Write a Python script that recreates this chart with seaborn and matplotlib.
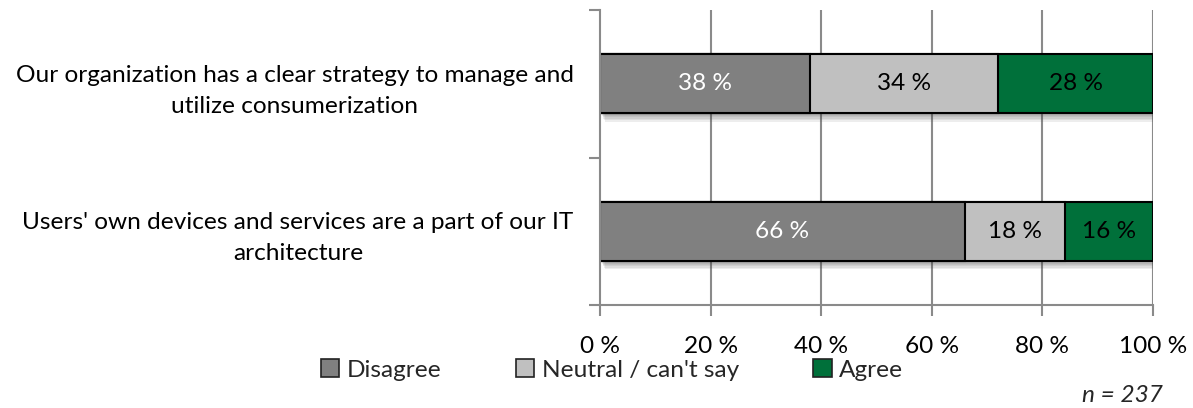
import matplotlib
matplotlib.use("Agg")
import matplotlib.pyplot as plt
import matplotlib.patheffects as pe
from matplotlib.patches import Patch
from matplotlib.ticker import FixedLocator
import numpy as np
import pandas as pd
import seaborn as sns

statements = [
    "Our organization has a clear strategy to manage and\nutilize consumerization",
    "Users' own devices and services are a part of our IT\narchitecture",
]
series_names = ["Disagree", "Neutral / can't say", "Agree"]
disagree = [38, 66]
neutral = [34, 18]
agree = [28, 16]
x_ticks = [0, 20, 40, 60, 80, 100]
sample_note = "n = 237"

colors = ["#808080", "#c0c0c0", "#00703a"]
label_colors = ["white", "black", "black"]

sns.set_theme(style="white")
plt.rcParams["font.family"] = ["Lato", "DejaVu Sans"]
FS = 17.6

df = pd.DataFrame({"statement": statements, "Disagree": disagree,
                   "Neutral / can't say": neutral, "Agree": agree})
values = df[series_names].to_numpy(dtype=float)
cum = np.cumsum(values, axis=1)

fig = plt.figure(figsize=(11.93, 4.08), dpi=100)
ax = fig.add_axes([600 / 1193, 1 - 305 / 408, 553 / 1193, 295 / 408])

grid_c = "#8a8a8a"
for xv in x_ticks[1:]:
    ax.axvline(xv, color=grid_c, lw=1.5, zorder=0)

# stack from the back: widest cumulative bar first
for i in reversed(range(len(series_names))):
    sns.barplot(x=cum[:, i], y=df["statement"], orient="h", color=colors[i],
                width=0.4, edgecolor="black", linewidth=1.5, ax=ax,
                saturation=1, zorder=2)

# soft drop shadow under the full bars (the first-drawn layer)
shadow = [pe.SimplePatchShadow(offset=(o * 0.6, -o), shadow_rgbFace="#404040", alpha=0.09)
          for o in (1, 2, 3, 4, 5, 6)]
for p in ax.patches[:len(statements)]:
    p.set_path_effects(shadow + [pe.Normal()])

for r in range(len(statements)):
    left = 0.0
    for i in range(len(series_names)):
        v = values[r, i]
        ax.text(left + v / 2, r, f"{v:.0f} %", ha="center", va="center",
                color=label_colors[i], fontsize=FS, zorder=5)
        left += v

ax.set_xlim(0, 100)
ax.set_ylim(1.5, -0.5)
ax.set_xticks(x_ticks)
ax.set_xticklabels([f"{t} %" for t in x_ticks], fontsize=FS)
ax.set_yticks(range(len(statements)))
ax.set_yticklabels(statements, fontsize=FS, multialignment="center", linespacing=1.6)
ax.yaxis.set_minor_locator(FixedLocator([-0.5, 0.5, 1.5]))
ax.tick_params(axis="y", which="major", length=0, pad=19, colors="black")
ax.tick_params(axis="y", which="minor", length=8, width=1.5, color=grid_c, left=True)
ax.tick_params(axis="x", length=8, width=1.5, color=grid_c, bottom=True, pad=14, labelcolor="black")
ax.set_xlabel("")
ax.set_ylabel("")
for s in ["top", "right"]:
    ax.spines[s].set_visible(False)
for s in ["left", "bottom"]:
    ax.spines[s].set_color(grid_c)
    ax.spines[s].set_linewidth(1.5)

handles = [Patch(facecolor=c, edgecolor="#222222", linewidth=1.2) for c in colors]
fig.legend(handles, series_names, loc="center", bbox_to_anchor=(612 / 1193, 1 - 370 / 408),
           ncol=3, frameon=False, fontsize=FS, handlelength=0.75, handleheight=0.75,
           handletextpad=0.3, columnspacing=3.05)

fig.text(1122 / 1193, 1 - 395 / 408, sample_note, ha="center", va="center",
         fontsize=FS, style="italic")

fig.savefig("out.png", dpi=100)
